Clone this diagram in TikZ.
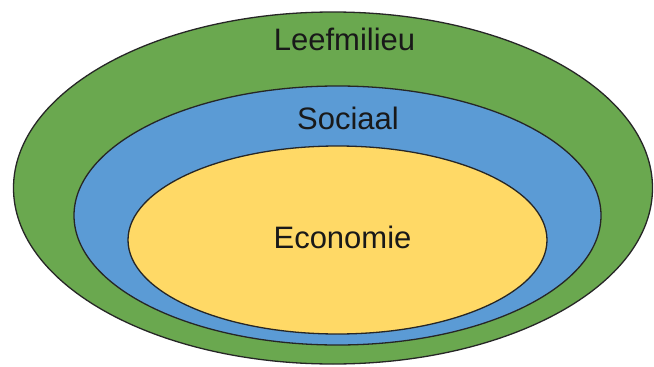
\documentclass[tikz,border=0pt]{standalone}
\usepackage{fontspec}
\setmainfont{Liberation Sans}
\definecolor{envgreen}{HTML}{6AA84F}
\definecolor{socblue}{HTML}{5B9BD5}
\definecolor{ecoyellow}{HTML}{FFD966}
\tikzset{
  ring/.style={draw=black!85, line width=1.3pt},
  lbl/.style={anchor=base, inner sep=0pt, font=\fontsize{31}{36}\selectfont, text=black!90}
}
\begin{document}
\begin{tikzpicture}[x=1pt,y=-1pt]
\useasboundingbox (0,0) rectangle (654,367);
\fill[white] (0,0) rectangle (654,367);
\draw[ring, fill=envgreen] (333,188) ellipse [x radius=319.5, y radius=176];
\draw[ring, fill=socblue] (337.5,215.5) ellipse [x radius=263.5, y radius=129.5];
\draw[ring, fill=ecoyellow] (337.5,240) ellipse [x radius=209.5, y radius=94];
\node[lbl] (leef) at (344.5,50) {Leefmilieu};
\node[lbl] (soc) at (348,129) {Sociaal};
\node[lbl] (eco) at (342.5,248) {Economie};
\end{tikzpicture}
\end{document}
